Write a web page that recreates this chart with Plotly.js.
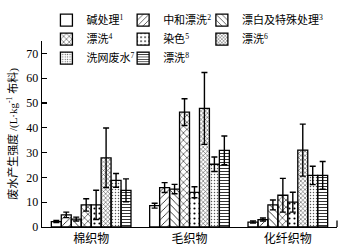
<!DOCTYPE html>
<html><head><meta charset="utf-8">
<script src="https://cdn.plot.ly/plotly-3.0.1.min.js"></script>
<style>html,body{margin:0;padding:0;background:#fff}</style>
</head><body><div id="chart" style="width:343px;height:250px"></div>
<script>
const categories = ['棉织物', '毛织物', '化纤织物'];
const seriesNames = ['碱处理<sup>1</sup>', '中和漂洗<sup>2</sup>', '漂白及特殊处理<sup>3</sup>', '漂洗<sup>4</sup>', '染色<sup>5</sup>', '漂洗<sup>6</sup>', '洗网废水<sup>7</sup>', '漂洗<sup>8</sup>'];
const s1 = [2.2, 8.6, 2.0];      const e1 = [0.4, 1.0, 0.4];
const s2 = [4.9, 15.9, 3.0];     const e2 = [1.1, 2.0, 0.6];
const s3 = [3.2, 15.3, 8.9];     const e3 = [0.8, 1.9, 2.0];
const s4 = [8.9, 46.3, 12.8];    const e4 = [2.5, 5.4, 6.8];
const s5 = [8.9, 14.0, 10.0];    const e5 = [5.9, 2.2, 4.0];
const s6 = [27.9, 47.8, 31.0];   const e6 = [12.0, 14.5, 10.5];
const s7 = [18.8, 25.3, 20.8];   const e7 = [2.8, 2.9, 3.7];
const s8 = [14.8, 30.9, 20.8];   const e8 = [4.6, 5.8, 5.6];
const yTicks = [0, 10, 20, 30, 40, 50, 60, 70];

const values = [s1, s2, s3, s4, s5, s6, s7, s8];
const errors = [e1, e2, e3, e4, e5, e6, e7, e8];
const styles = [
  {color: '#ffffff', pattern: {shape: ''}},
  {color: '#ffffff', pattern: {shape: '/', size: 5, solidity: 0.15, fgcolor: '#000'}},
  {color: '#ffffff', pattern: {shape: '\\', size: 5, solidity: 0.15, fgcolor: '#000'}},
  {color: '#ffffff', pattern: {shape: 'x', size: 5, solidity: 0.2, fgcolor: '#000'}},
  {color: '#ffffff', pattern: {shape: '.', size: 5, solidity: 0.15, fgcolor: '#000'}},
  {color: '#808080', pattern: {shape: 'x', size: 3, solidity: 0.3, fgcolor: '#333'}},
  {color: '#eeeeee', pattern: {shape: '.', size: 3, solidity: 0.2, fgcolor: '#555'}},
  {color: '#ffffff', pattern: {shape: '-', size: 3, solidity: 0.35, fgcolor: '#333'}}
];
const legendIds = ['legend', 'legend2', 'legend3'];
const F = 'Liberation Serif, Noto Sans CJK SC, serif';
const traces = values.map((v, i) => ({
  type: 'bar', x: categories, y: v, name: seriesNames[i],
  legend: legendIds[i % 3],
  marker: {color: styles[i].color, pattern: styles[i].pattern, line: {color: '#000', width: 1.3}},
  error_y: {type: 'data', array: errors[i], visible: true, color: '#000', thickness: 1.4, width: 3}
}));
const legendBase = {orientation: 'v', xanchor: 'left', y: 1.19, yanchor: 'top',
  font: {family: F, size: 11}, bgcolor: 'rgba(0,0,0,0)', tracegroupgap: 0,
  traceorder: 'normal', itemwidth: 30};
const layout = {
  width: 343, height: 250,
  margin: {l: 42, r: 6, t: 28, b: 23},
  paper_bgcolor: '#fff', plot_bgcolor: '#fff',
  barmode: 'group', bargap: 0.19, bargroupgap: 0,
  font: {family: F, size: 11, color: '#000'},
  showlegend: true,
  legend: Object.assign({}, legendBase, {x: 0.015}),
  legend2: Object.assign({}, legendBase, {x: 0.275}),
  legend3: Object.assign({}, legendBase, {x: 0.542}),
  xaxis: {type: 'category', showline: true, linecolor: '#000', linewidth: 1.3,
    ticks: '', showgrid: false, zeroline: false, tickfont: {family: F, size: 12}},
  yaxis: {range: [0, 75], showline: true, linecolor: '#000', linewidth: 1.3,
    ticks: 'inside', ticklen: 5, tickwidth: 1.3, tickcolor: '#000',
    tickvals: yTicks, showgrid: false, zeroline: false,
    tickfont: {family: F, size: 12},
    title: {text: '废水产生强度 /(L·kg<sup>-1</sup> 布料)', font: {family: F, size: 11}, standoff: 6}},
  shapes: [{type: 'line', xref: 'paper', yref: 'paper', x0: 1, x1: 1, y0: 0, y1: 0.035,
    line: {color: '#000', width: 1.3}}]
};
Plotly.newPlot('chart', traces, layout, {displayModeBar: false, staticPlot: true});
</script></body></html>
